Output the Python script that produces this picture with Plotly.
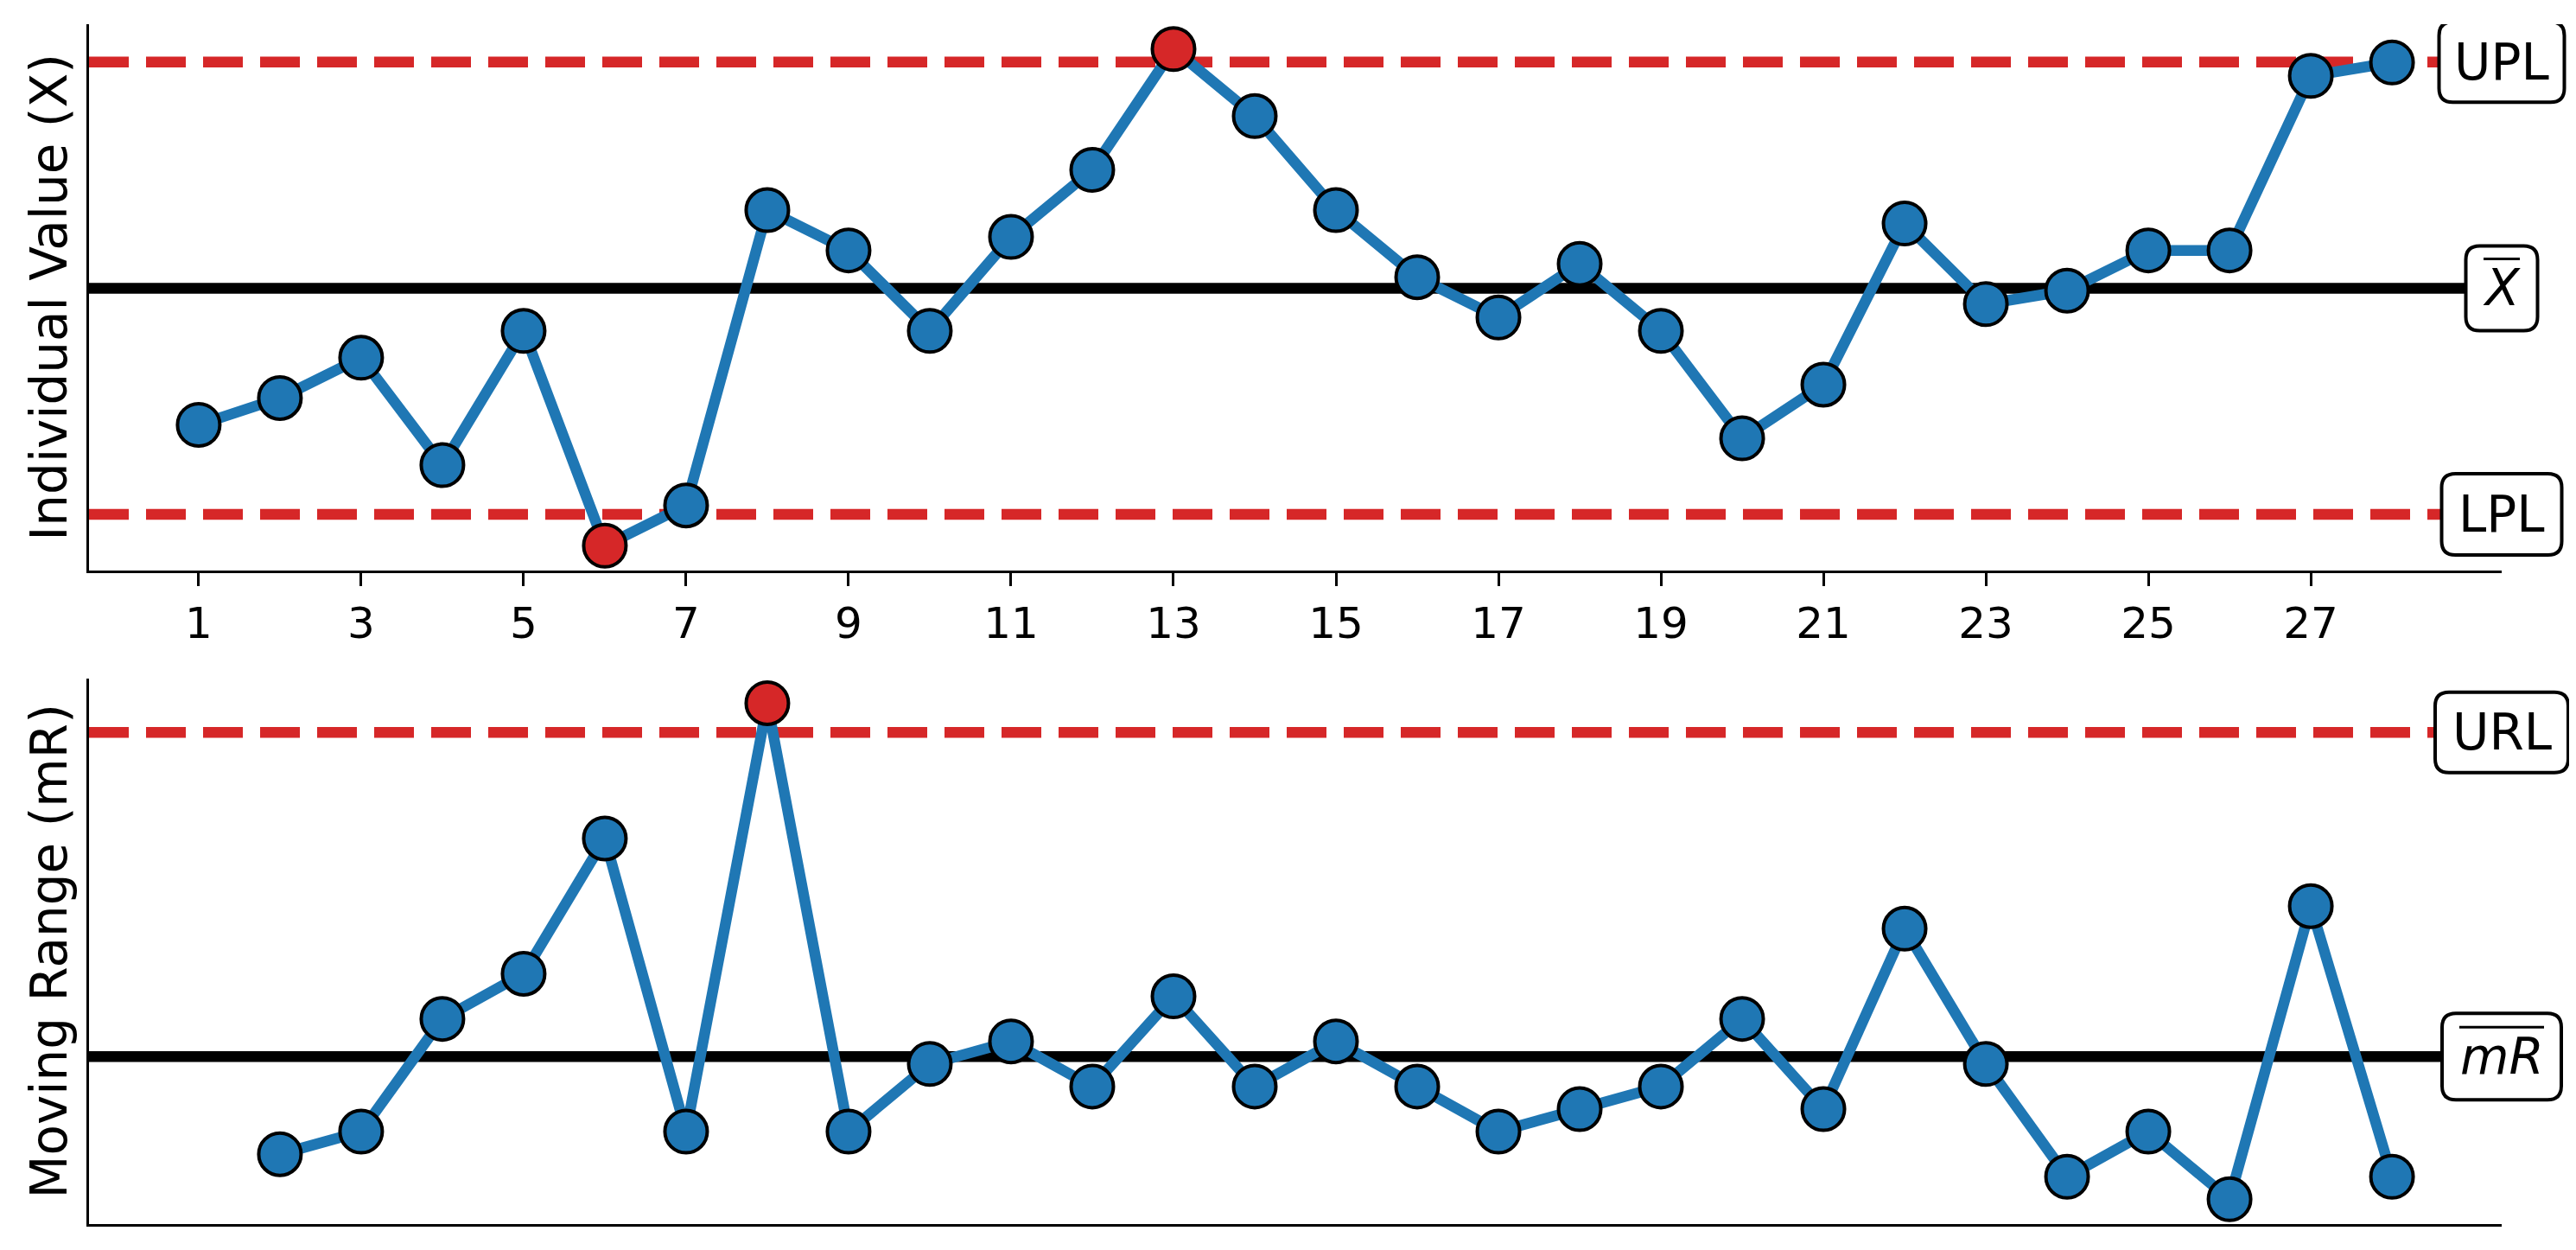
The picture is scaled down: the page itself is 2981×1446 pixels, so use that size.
import plotly.graph_objects as go

# ---- data ----
obs = list(range(1, 29))
values = [90, 92, 95, 87, 97, 81, 84, 106, 103, 97, 104, 109, 118, 113,
          106, 101, 98, 102, 97, 89, 93, 105, 99, 100, 103, 103, 116, 117]
mr_obs = list(range(2, 29))
moving_range = [2, 3, 8, 10, 16, 3, 22, 3, 6, 7, 5, 9, 5, 7, 5, 3, 4, 5, 8,
                4, 12, 6, 1, 3, 0, 13, 1]
x_bar = 100.18
upl = 117.03
lpl = 83.33
mr_bar = 6.33
url = 20.70
tick_vals = list(range(1, 29, 2))
tick_text = [str(t) for t in tick_vals]

BLUE = "#1f77b4"
RED = "#d62728"
FONT = "DejaVu Sans"

def span(lo, hi, m=0.05):
    d = hi - lo
    return [lo - m * d, hi + m * d]

x_range = span(min(obs), max(obs))
y1_range = span(min(values), max(values))
y2_range = span(min(moving_range), max(moving_range))

x_colors = [RED if (v > upl or v < lpl) else BLUE for v in values]
mr_colors = [RED if v > url else BLUE for v in moving_range]

fig = go.Figure()
fig.add_trace(go.Scatter(
    x=obs, y=values, mode="lines+markers", xaxis="x", yaxis="y",
    line=dict(color=BLUE, width=12.5),
    marker=dict(size=49, color=x_colors, line=dict(color="black", width=4)),
    showlegend=False, cliponaxis=False))
fig.add_trace(go.Scatter(
    x=mr_obs, y=moving_range, mode="lines+markers", xaxis="x2", yaxis="y2",
    line=dict(color=BLUE, width=12.5),
    marker=dict(size=49, color=mr_colors, line=dict(color="black", width=4)),
    showlegend=False, cliponaxis=False))

shapes = []
def hline(yref, xref, yv, color, dash):
    shapes.append(dict(type="line", xref=xref + " domain", x0=0, x1=1,
                       yref=yref, y0=yv, y1=yv, layer="below",
                       line=dict(color=color, width=12.5, dash=dash)))

hline("y", "x", upl, RED, "46px,20px")
hline("y", "x", lpl, RED, "46px,20px")
hline("y", "x", x_bar, "black", "solid")
hline("y2", "x2", url, RED, "46px,20px")
hline("y2", "x2", mr_bar, "black", "solid")

def rbox(yref, yv, w, h, r=16):
    a, b = w / 2, h / 2
    p = (f"M {-a + r},{-b} L {a - r},{-b} Q {a},{-b} {a},{-b + r} "
         f"L {a},{b - r} Q {a},{b} {a - r},{b} L {-a + r},{b} "
         f"Q {-a},{b} {-a},{b - r} L {-a},{-b + r} Q {-a},{-b} {-a + r},{-b} Z")
    shapes.append(dict(type="path", path=p, xref="paper", xsizemode="pixel",
                       xanchor=1, yref=yref, ysizemode="pixel", yanchor=yv,
                       fillcolor="white", line=dict(color="black", width=4),
                       layer="above"))

labels = [
    ("y", upl, "UPL", 145, 93),
    ("y", x_bar, "<i>X</i>", 83, 98),
    ("y", lpl, "LPL", 139, 94),
    ("y2", url, "URL", 154, 93),
    ("y2", mr_bar, "<i>mR</i>", 138, 100),
]
for yref, yv, txt, w, h in labels:
    rbox(yref, yv, w, h)

# overlines for the mathtext labels
def overline(yref, yv, half, dy):
    shapes.append(dict(type="line", xref="paper", xsizemode="pixel", xanchor=1,
                       x0=-half, x1=half, yref=yref, ysizemode="pixel",
                       yanchor=yv, y0=dy, y1=dy, layer="above",
                       line=dict(color="black", width=3)))

overline("y", x_bar, 21, 34)
overline("y2", mr_bar, 49, 34)

annotations = []
for yref, yv, txt, w, h in labels:
    annotations.append(dict(xref="paper", x=1, xanchor="center", yref=yref,
                            y=yv, yanchor="middle", text=txt, showarrow=False,
                            font=dict(family=FONT, size=58, color="black")))

axis_common = dict(showline=True, linecolor="black", linewidth=3.3,
                   showgrid=False, zeroline=False, automargin=False)

fig.update_layout(
    template="none",
    width=2981, height=1446,
    margin=dict(l=95, r=94, t=20, b=38),
    paper_bgcolor="white", plot_bgcolor="white",
    font=dict(family=FONT, color="black"),
    xaxis=dict(domain=[0, 1], anchor="y", range=x_range,
               tickmode="array", tickvals=tick_vals, ticktext=tick_text,
               ticks="outside", ticklen=14.6, tickwidth=3.3, tickcolor="black",
               tickfont=dict(family=FONT, size=50, color="black"),
               **axis_common),
    yaxis=dict(domain=[0.5447, 1], anchor="x", range=y1_range,
               showticklabels=False, ticks="",
               title=dict(text="Individual Value (X)", standoff=4,
                          font=dict(family=FONT, size=58, color="black")),
               **axis_common),
    xaxis2=dict(domain=[0, 1], anchor="y2", range=x_range,
                showticklabels=False, ticks="", **axis_common),
    yaxis2=dict(domain=[0, 0.4548], anchor="x2", range=y2_range,
                showticklabels=False, ticks="",
                title=dict(text="Moving Range (mR)", standoff=4,
                           font=dict(family=FONT, size=58, color="black")),
                **axis_common),
    shapes=shapes,
    annotations=annotations,
)

fig.write_html("out.html")
